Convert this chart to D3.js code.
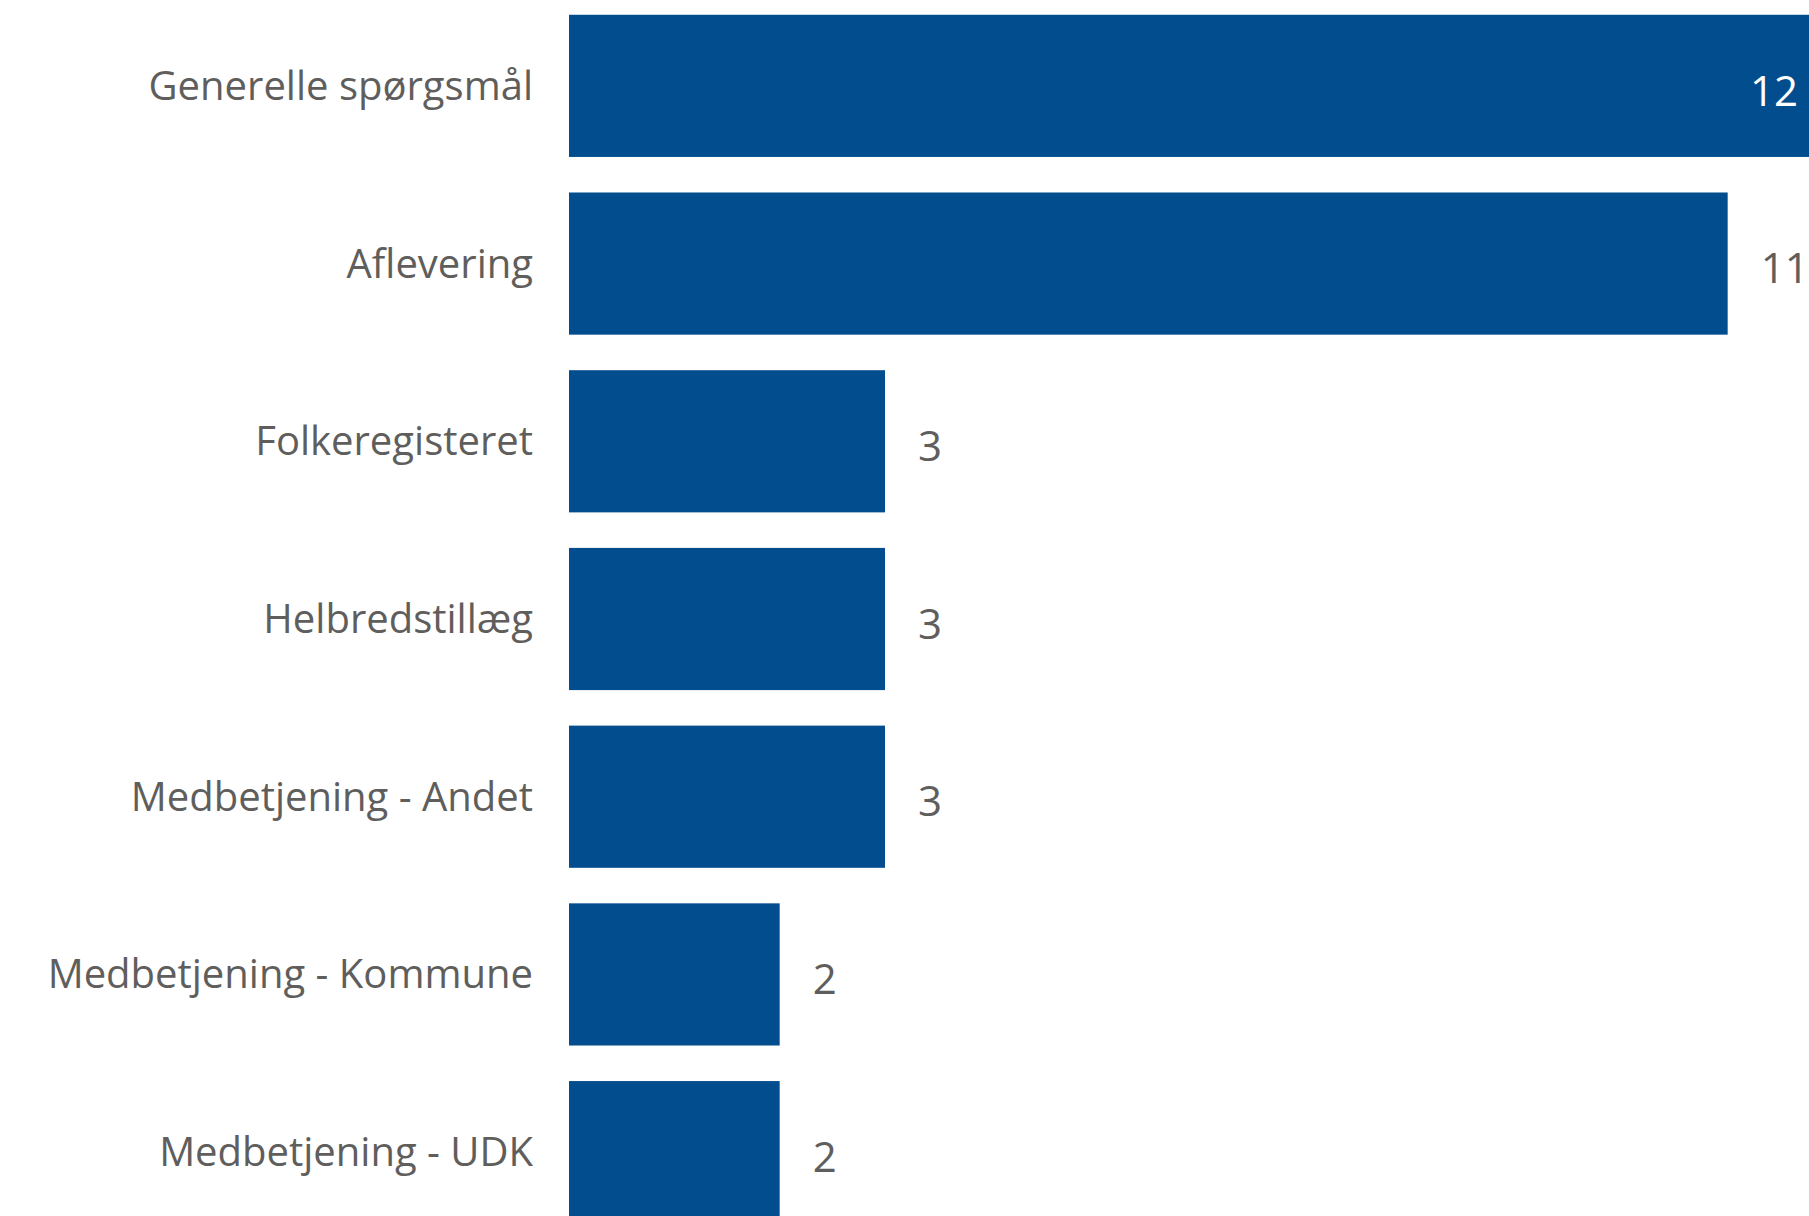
<!DOCTYPE html>
<html>
<head>
<meta charset="utf-8">
<script src="https://cdn.jsdelivr.net/npm/d3@7"></script>
<style>
  body { margin: 0; background: #fff; }
  text { font-family: "Segoe UI", "Open Sans", sans-serif; }
</style>
</head>
<body>
<div id="chart"></div>
<script>
// categories and counts
var categories = ["Generelle spørgsmål", "Aflevering", "Folkeregisteret", "Helbredstillæg",
                  "Medbetjening - Andet", "Medbetjening - Kommune", "Medbetjening - UDK"];
var counts = [12, 11, 3, 3, 3, 2, 2];

var width = 1809, height = 1216;

var svg = d3.select("#chart")
  .append("svg")
  .attr("width", width)
  .attr("height", height);

// x scale
var x = d3.scaleLinear()
  .domain([0, 12])
  .range([569, 1833]);

// y scale
var y = d3.scaleBand()
  .domain(categories)
  .range([-3, 1241])
  .paddingInner(0.2)
  .paddingOuter(0.1);

// category labels
svg.selectAll(".cat")
  .data(categories)
  .enter()
  .append("text")
  .attr("class", "cat")
  .attr("x", 533)
  .attr("y", function(d){ return y(d) + y.bandwidth()/2 })
  .attr("dy", "0.35em")
  .attr("text-anchor", "end")
  .attr("fill", "#605e5c")
  .style("font-size", "40px")
  .text(function(d){ return d });

// bars
svg.selectAll(".bar")
  .data(counts)
  .enter()
  .append("rect")
  .attr("class", "bar")
  .attr("x", x(0))
  .attr("y", function(d, i){ return y(categories[i]) })
  .attr("width", function(d){ return x(d) - x(0) })
  .attr("height", y.bandwidth())
  .attr("fill", "#024d8e");

// value labels, inside the bar when there is no room outside
svg.selectAll(".val")
  .data(counts)
  .enter()
  .append("text")
  .attr("class", "val")
  .attr("y", function(d, i){ return y(categories[i]) + y.bandwidth()/2 + 5 })
  .attr("dy", "0.35em")
  .style("font-size", "42px")
  .text(function(d){ return d })
  .each(function(d){
    var t = d3.select(this);
    var w = this.getComputedTextLength();
    if (x(d) + 33 + w > width) {
      t.attr("x", width - 11).attr("text-anchor", "end").attr("fill", "#ffffff");
    } else {
      t.attr("x", x(d) + 33).attr("fill", "#605e5c");
    }
  });
</script>
</body>
</html>
